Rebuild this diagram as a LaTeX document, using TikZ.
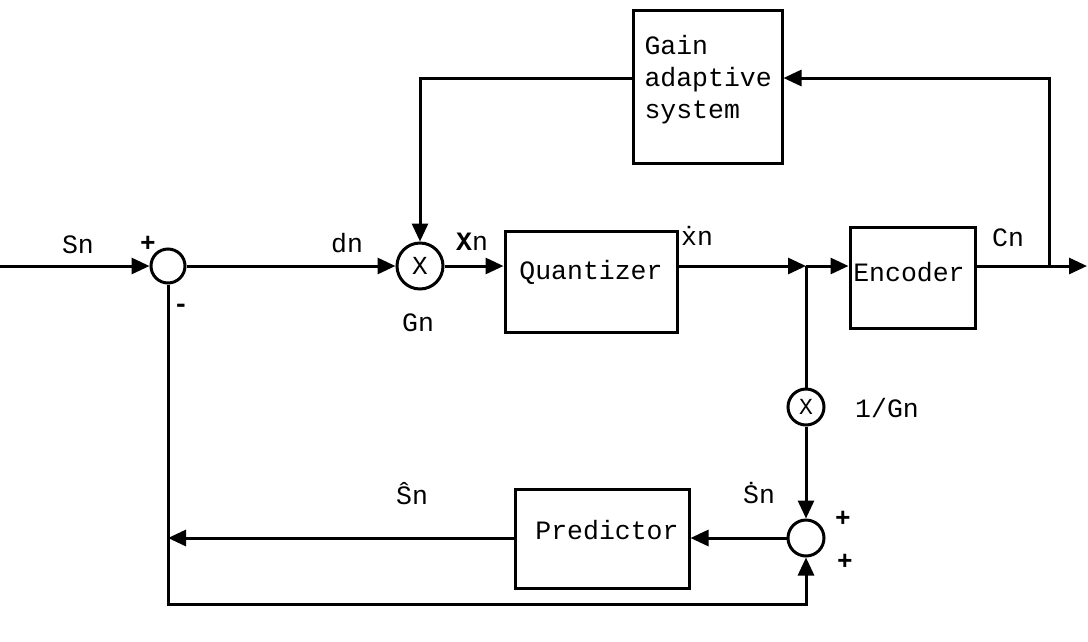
\documentclass[tikz,border=0pt]{standalone}
\usepackage{fontspec}
\setmainfont{Liberation Mono}
\usetikzlibrary{arrows.meta}
\begin{document}
\begin{tikzpicture}[x=1pt,y=-1pt,
  line width=3pt,
  arr/.style={-{Triangle[length=18pt,width=16pt]}},
  blk/.style={draw,rectangle,inner sep=0pt},
  sumnode/.style={draw,circle,inner sep=0pt,font=\fontsize{26}{28}\selectfont},
  lbl/.style={inner sep=0pt,font=\fontsize{26.5}{30}\selectfont},
  sgn/.style={inner sep=0pt,font=\fontsize{26}{28}\selectfont\bfseries},
]
\useasboundingbox (0,0) rectangle (1088,641);

% blocks
\node[sumnode,minimum size=34pt] (sub) at (168,266) {};
\node[sumnode,minimum size=46pt] (mulA) at (420,266) {X};
\node[blk,minimum width=172pt,minimum height=101pt] (quant) at (591,281.5) {};
\node[lbl] (quantT) at (591,272) {Quantizer};
\node[blk,minimum width=125pt,minimum height=101pt] (enc) at (912.5,277.5) {};
\node[lbl] (encT) at (909,272) {Encoder};
\node[blk,minimum width=149pt,minimum height=153pt] (gain) at (707.5,86.5) {};
\node[lbl,align=left,anchor=west,font=\fontsize{26.5}{32}\selectfont] (gainT) at (643,80) {Gain\\adaptive\\system};
\node[sumnode,minimum size=36pt,font=\fontsize{23}{25}\selectfont] (mulB) at (806,407) {X};
\node[sumnode,minimum size=36pt] (add) at (806,538) {};
\node[blk,minimum width=174pt,minimum height=99pt] (pred) at (602,538.5) {};
\node[lbl] (predT) at (607,530) {Predictor};

% helper coordinates
\coordinate (in) at (0,266);
\coordinate (out) at (1087,266);
\coordinate (j) at (806,266);
\coordinate (tap) at (1049,266);
\coordinate (gy) at (0,78);
\coordinate (left) at (168,538);
\coordinate (bl) at (168,604);
\coordinate (br) at (806,604);

% connectors
\draw[arr] (in) -- (sub.west);
\draw[arr] (sub.east) -- (mulA.west);
\draw[arr] (mulA.east) -- (quant.west |- mulA.east);
\draw[arr] (quant.east |- j) -- (j);
\draw[arr] (j) -- (enc.west |- j);
\draw (enc.east |- j) -- (tap);
\draw[arr] (tap) -- (out);
\draw[arr] (tap) |- (gain.east |- gy);
\draw[arr] (gain.west |- gy) -| (mulA.north);
\draw (j) -- (mulB.north);
\draw[arr] (mulB.south) -- (add.north);
\draw[arr] (add.west) -- (pred.east |- add.west);
\draw[arr] (pred.west |- add.west) -- (left);
\draw[arr] (sub.south) -- (bl) -- (br) -- (add.south);

% labels
\node[lbl] (lSn) at (78,245) {Sn};
\node[sgn] (lp1) at (148,244) {+};
\node[sgn] (lm1) at (181,308) {-};
\node[lbl] (ldn) at (347,243) {dn};
\node[lbl] (lXn) at (472,242) {{\bfseries X}n};
\node[lbl] (lxd) at (697,236) {\.{x}n};
\node[lbl] (lCn) at (1008,238) {Cn};
\node[lbl] (lGn) at (418,323) {Gn};
\node[lbl] (lGi) at (887,408) {1/Gn};
\node[lbl] (lSh) at (412,494) {\^{S}n};
\node[lbl] (lSd) at (759,493) {\.{S}n};
\node[sgn] (lp2) at (843,519) {+};
\node[sgn] (lp3) at (845,562) {+};
\end{tikzpicture}
\end{document}
